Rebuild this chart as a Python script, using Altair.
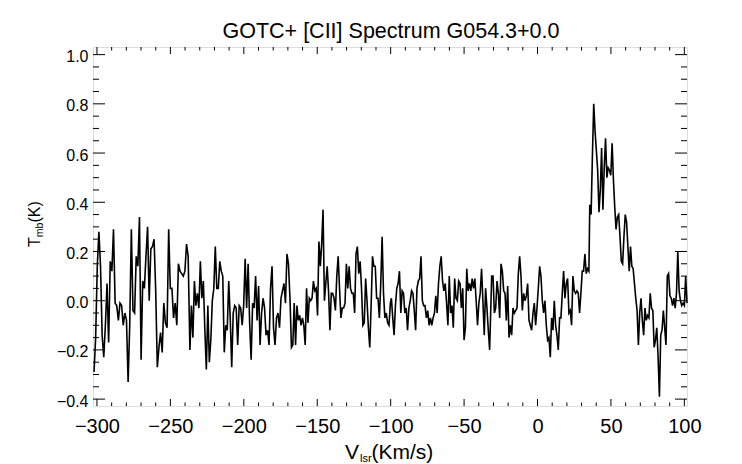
import altair as alt
import numpy as np
import pandas as pd

# ---- spectrum values in six consecutive velocity segments ----
seg_bounds = [(-302.0, -237.9), (-236.7, -169.6), (-168.5, -100.2),
              (-99.5, -32.6), (-31.2, 35.0), (35.6, 101.8)]

seg1 = [-0.29, -0.15, 0.14, 0.28, 0.14, -0.14, -0.23, -0.10, 0.07, -0.17,
        0.16, 0.12, 0.29, -0.01, -0.02, -0.08, -0.01, -0.02, -0.10, -0.05,
        -0.08, -0.33, -0.10, 0.29, -0.04, -0.05, 0.18, 0.14, 0.34, -0.24,
        0.08, 0.05, 0.18, 0.30, 0.0, 0.21, 0.22, 0.25, 0.04, -0.27,
        -0.19, -0.13, -0.21, -0.01, -0.09, -0.11, 0.29, 0.05, 0.05, -0.07,
        -0.01, -0.10, 0.15, 0.12, 0.11, 0.10, 0.12, 0.23, 0.18]
seg2 = [-0.20, -0.02, -0.15, 0.08, -0.02, 0.03, -0.03, 0.16, 0.01, 0.08,
        -0.12, -0.28, -0.02, -0.25, -0.16, 0.0, 0.05, 0.22, 0.05, 0.05,
        0.16, 0.12, 0.10, -0.21, -0.10, -0.12, 0.08, -0.07, -0.27, -0.05,
        -0.02, -0.03, -0.18, -0.02, -0.03, -0.10, -0.02, 0.17, -0.03, 0.15,
        -0.09, -0.24, -0.01, -0.03, 0.10, -0.08, 0.06, -0.18, -0.05, 0.01,
        -0.03, -0.14, -0.12, -0.18, 0.05, 0.14, -0.11, -0.18, -0.07, -0.05,
        -0.11, 0.01, 0.04, 0.07, -0.01, 0.19, 0.15]
seg3 = [0.0, -0.19, -0.18, -0.01, -0.18, -0.02, -0.08, -0.06, -0.10, -0.07,
        -0.10, -0.18, 0.05, -0.09, 0.01, 0.0, 0.01, 0.08, 0.04, 0.05,
        -0.06, 0.24, 0.14, 0.23, 0.37, 0.0, 0.07, 0.14, 0.04, -0.12,
        0.03, 0.03, 0.01, -0.04, 0.10, 0.18, 0.05, -0.07, -0.03, -0.03,
        -0.01, 0.15, 0.05, 0.14, 0.05, 0.03, 0.03, -0.05, 0.19, 0.22,
        0.11, 0.16, 0.05, -0.10, -0.09, 0.09, 0.0, -0.11, -0.19, -0.02,
        0.18, 0.14, 0.14, 0.01, 0.01, -0.07, 0.07, 0.26, 0.03, -0.07,
        -0.05, -0.09, -0.10, -0.01]
seg4 = [0.01, -0.07, -0.14, -0.02, 0.05, 0.07, 0.12, -0.05, 0.04, 0.03,
        -0.05, -0.03, -0.12, -0.03, 0.0, 0.04, 0.03, -0.04, -0.12, 0.05,
        0.08, 0.09, 0.18, 0.0, -0.02, -0.02, -0.07, -0.04, -0.10, -0.07,
        -0.10, -0.07, -0.05, 0.02, -0.05, 0.07, 0.14, 0.18, 0.08, 0.04,
        0.07, -0.01, -0.10, 0.10, -0.05, -0.02, -0.11, 0.09, 0.01, 0.0,
        0.08, 0.07, -0.03, 0.05, -0.16, -0.11, 0.13, 0.04, 0.07, 0.04,
        0.09, 0.05, 0.09, 0.0, -0.10, -0.01, 0.03, 0.13, 0.0, -0.14,
        0.05, -0.03, -0.12, -0.20]
seg5 = [0.10, 0.10, -0.05, -0.03, 0.08, 0.03, -0.07, 0.15, 0.12, 0.04,
        0.03, -0.08, 0.06, -0.15, -0.10, -0.14, -0.03, -0.05, -0.04, -0.03,
        0.11, 0.18, 0.10, -0.04, 0.03, 0.0, 0.02, 0.07, -0.08, -0.10,
        -0.12, -0.05, -0.01, -0.10, -0.03, 0.05, 0.14, 0.10, 0.0, -0.05,
        0.0, -0.10, -0.16, -0.15, -0.23, -0.07, -0.12, 0.0, -0.10, -0.14,
        -0.20, -0.07, -0.07, 0.03, 0.12, 0.01, 0.07, 0.09, -0.05, -0.04,
        -0.10, 0.10, 0.04, 0.03, 0.04, 0.03, -0.05, 0.03, 0.12, 0.12,
        0.19, 0.11, 0.13, 0.12]
seg6 = [0.39, 0.35, 0.59, 0.80, 0.69, 0.61, 0.53, 0.36, 0.45, 0.62,
        0.37, 0.54, 0.66, 0.50, 0.54, 0.53, 0.51, 0.64, 0.49, 0.38,
        0.29, 0.34, 0.35, 0.26, 0.16, 0.15, 0.26, 0.35, 0.32, 0.22,
        0.12, 0.22, 0.14, 0.13, 0.07, 0.01, -0.04, -0.18, -0.05, 0.01,
        -0.08, -0.14, -0.03, -0.08, -0.06, -0.07, 0.03, -0.03, -0.04, -0.19,
        -0.16, -0.11, -0.23, -0.39, -0.14, -0.12, -0.04, -0.11, -0.18, 0.10,
        0.11, 0.02, 0.01, -0.02, 0.01, -0.03, 0.03, 0.20, 0.04, 0.0,
        -0.02, -0.01, -0.02, 0.10, -0.01]

x_major = [-300, -250, -200, -150, -100, -50, 0, 50, 100]
x_minor = [v for v in range(-300, 101, 10) if v % 50 != 0]
y_major = [-0.4, -0.2, 0.0, 0.2, 0.4, 0.6, 0.8, 1.0]
y_minor = [round(-0.4 + 0.05 * i, 2) for i in range(29) if i % 4 != 0]

title_text = "GOTC+ [CII] Spectrum G054.3+0.0"

# ---- build table ----
segs = [seg1, seg2, seg3, seg4, seg5, seg6]
vel, tmb = [], []
for (a, b), s in zip(seg_bounds, segs):
    vel.extend(np.linspace(a, b, len(s)).tolist())
    tmb.extend(s)
df = pd.DataFrame({"v": vel, "t": tmb})

W, H = 594, 359
FONT = "Liberation Sans"
xs = alt.Scale(domain=[-302.7, 101.8], nice=False, zero=False)
ys = alt.Scale(domain=[-0.428, 1.031], nice=False, zero=False)

xaxis = alt.Axis(
    values=x_major, format="d", title=None, ticks=False, tickSize=0,
    domain=False, grid=False, labelFontSize=20, labelFont=FONT,
    labelColor="black", labelBaseline="alphabetic", labelPadding=26,
    labelFlush=False, labelOverlap=False)
yaxis = alt.Axis(
    values=y_major, format=".1f", title=None, ticks=False, tickSize=0,
    domain=False, grid=False, labelFontSize=16, labelFont=FONT,
    labelColor="black", labelPadding=5, labelOffset=2,
    labelFlush=False, labelOverlap=False)

line = alt.Chart(df).mark_line(color="black", strokeWidth=1.6).encode(
    x=alt.X("v:Q", scale=xs, axis=xaxis),
    y=alt.Y("t:Q", scale=ys, axis=yaxis),
)

def xticks(vals, length):
    d = pd.DataFrame({"v": vals})
    base = alt.Chart(d).mark_rule(color="black", strokeWidth=1)
    bot = base.encode(x=alt.X("v:Q", scale=xs, axis=xaxis),
                      y=alt.value(H), y2=alt.value(H - length))
    top = base.encode(x=alt.X("v:Q", scale=xs, axis=xaxis),
                      y=alt.value(0), y2=alt.value(length))
    return [bot, top]

def yticks(vals, length):
    d = pd.DataFrame({"t": vals})
    base = alt.Chart(d).mark_rule(color="black", strokeWidth=1)
    left = base.encode(y=alt.Y("t:Q", scale=ys, axis=yaxis),
                       x=alt.value(0), x2=alt.value(length))
    right = base.encode(y=alt.Y("t:Q", scale=ys, axis=yaxis),
                        x=alt.value(W), x2=alt.value(W - length))
    return [left, right]

def label(text, x, y, size, angle=0, align="left"):
    return alt.Chart(pd.DataFrame({"s": [text]})).mark_text(
        font=FONT, fontSize=size, color="black", align=align,
        baseline="alphabetic", angle=angle).encode(
        x=alt.value(x), y=alt.value(y), text="s:N")

texts = [
    label(title_text, 298, -9, 21.5, align="center"),
    label("V", 252, 411.5, 21),
    label("lsr", 267, 414.5, 11),
    label("(Km/s)", 278.5, 411.5, 21),
    label("T", -53, 200, 16, angle=270),
    label("mb", -50, 190.2, 10.5, angle=270),
    label("(K)", -53, 175.6, 16, angle=270),
]

layers = ([line] + xticks(x_major, 7) + xticks(x_minor, 3.5)
          + yticks(y_major, 12) + yticks(y_minor, 6) + texts)

chart = alt.layer(*layers).properties(
    width=W, height=H,
    autosize=alt.AutoSizeParams(type="none"),
    padding={"left": 85, "top": 39, "right": 40, "bottom": 62},
).configure_view(stroke="black", strokeWidth=1.2).configure(background="white")

chart.save("out.html", embed_options={"renderer": "svg", "actions": False})
